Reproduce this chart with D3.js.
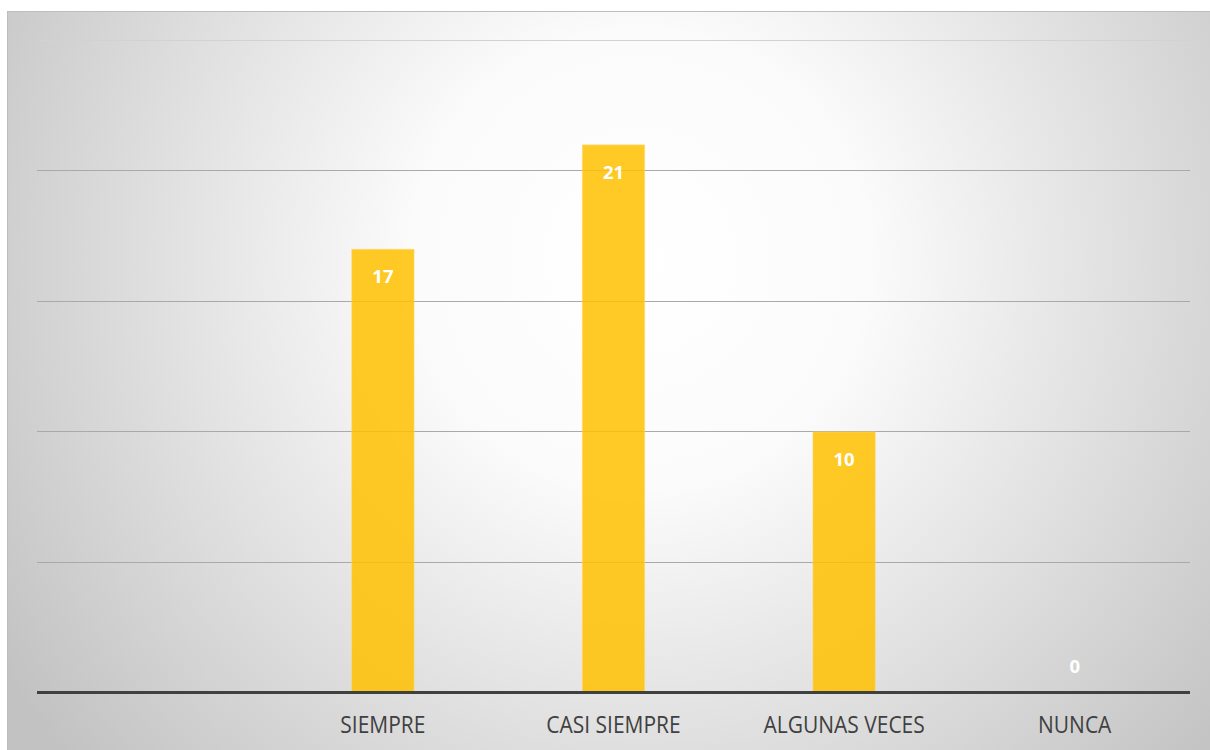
<!DOCTYPE html>
<html><head><meta charset="utf-8">
<script src="https://cdn.jsdelivr.net/npm/d3@7"></script>
<style>body{margin:0;background:#fff;overflow:hidden}svg{display:block}</style>
</head><body>
<script>
const categories = ["", "SIEMPRE", "CASI SIEMPRE", "ALGUNAS VECES", "NUNCA"];
const values = [null, 17, 21, 10, 0];
const yTicks = [0, 5, 10, 15, 20, 25];

const W = 1210, H = 750;
const svg = d3.select("body").append("svg").attr("width", W).attr("height", H);
const defs = svg.append("defs");
const grad = defs.append("radialGradient").attr("id", "bg")
  .attr("gradientUnits", "userSpaceOnUse")
  .attr("cx", 640).attr("cy", 260).attr("r", 760);
grad.append("stop").attr("offset", "0%").attr("stop-color", "#ffffff");
grad.append("stop").attr("offset", "30%").attr("stop-color", "#fbfbfb");
grad.append("stop").attr("offset", "100%").attr("stop-color", "#c2c2c2");

svg.append("rect").attr("x", 7).attr("y", 11).attr("width", W - 7).attr("height", H - 11)
  .attr("fill", "url(#bg)");
svg.append("line").attr("x1", 7).attr("x2", W).attr("y1", 11.5).attr("y2", 11.5).attr("stroke", "#bdbdbd");
svg.append("line").attr("x1", 7.5).attr("x2", 7.5).attr("y1", 11).attr("y2", H).attr("stroke", "#bdbdbd");

const x = d3.scaleBand().domain(categories.map((d, i) => i)).range([37, 1190]).paddingInner(0.73).paddingOuter(0.365);
const y = d3.scaleLinear().domain([0, 25]).range([692, 39.5]);

const font = "'Open Sans', Lato, sans-serif";

// gridlines
svg.append("g").selectAll("line").data(yTicks.filter(t => t > 0)).join("line")
  .attr("x1", 37).attr("x2", 1190)
  .attr("y1", d => Math.round(y(d)) + 0.5).attr("y2", d => Math.round(y(d)) + 0.5)
  .attr("stroke", d => d === 25 ? "#d2d2d2" : "#a9a9a9").attr("stroke-width", 1);

// bars
const idx = categories.map((d, i) => i).filter(i => values[i] !== null);
svg.append("g").selectAll("rect").data(idx).join("rect")
  .attr("x", i => x(i)).attr("width", x.bandwidth())
  .attr("y", i => y(values[i]) + 1).attr("height", i => y(0) - y(values[i]) - 1)
  .attr("fill", "#ffc000").attr("fill-opacity", 0.85)
  .attr("stroke", "#ffd966").attr("stroke-opacity", 0.6).attr("stroke-width", 1);

// data labels
svg.append("g").selectAll("text").data(idx).join("text")
  .attr("x", i => x(i) + x.bandwidth() / 2)
  .attr("y", i => values[i] === 0 ? y(0) - 19 : y(values[i]) + 35)
  .attr("text-anchor", "middle").attr("font-family", font).attr("font-weight", "bold")
  .attr("font-size", 18.5).attr("fill", "#ffffff")
  .text(i => values[i]);

// baseline
svg.append("line").attr("x1", 37).attr("x2", 1190).attr("y1", y(0) + 0.5).attr("y2", y(0) + 0.5)
  .attr("stroke", "#404040").attr("stroke-width", 3);

// category labels
const xAxis = d3.axisBottom(x).tickSize(0).tickFormat(i => categories[i]);
const ax = svg.append("g").attr("transform", `translate(0,${y(0)})`).call(xAxis);
ax.select(".domain").remove();
ax.selectAll("text").attr("dy", 0).attr("y", 0)
  .attr("transform", "translate(0,41) scale(1,1.15)")
  .attr("font-family", font)
  .attr("font-size", 21).attr("fill", "#404040");
</script>
</body></html>
